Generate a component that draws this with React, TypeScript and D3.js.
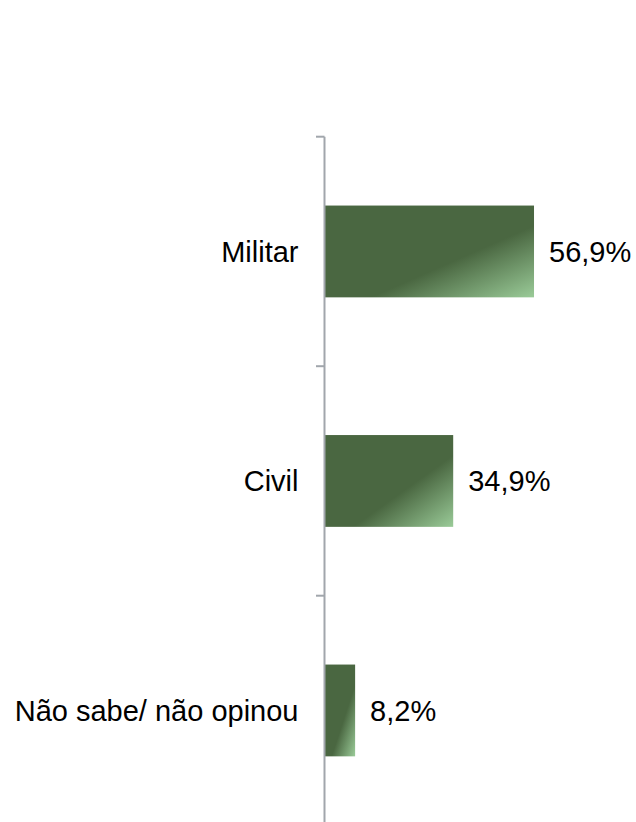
import React, { useEffect, useRef } from 'react';
import * as d3 from 'd3';

const categories = ['Militar', 'Civil', 'Não sabe/ não opinou'];
const values = [56.9, 34.9, 8.2];
const valueLabels = ['56,9%', '34,9%', '8,2%'];

const App = () => {
  const chartRef = useRef(null);

  useEffect(() => {
    const width = 636;
    const height = 822;
    const svg = d3.select(chartRef.current)
      .attr('width', width)
      .attr('height', height)
      .style('background-color', '#FFFFFF');

    svg.selectAll('*').remove();

    const axisX = 324.5;
    const top = 136.7;
    const step = 229.5;

    const y = d3.scaleBand()
      .domain(categories)
      .range([top, top + step * categories.length])
      .paddingInner(0.6)
      .paddingOuter(0.3);

    const x = d3.scaleLinear()
      .domain([0, 60])
      .range([axisX + 0.5, axisX + 0.5 + 220.4]);

    // degradê verde da barra
    const grad = svg.append('defs').append('linearGradient')
      .attr('id', 'barGrad')
      .attr('x1', 0).attr('y1', 0)
      .attr('x2', 1).attr('y2', 1);
    grad.append('stop').attr('offset', '0%').attr('stop-color', '#4a6741');
    grad.append('stop').attr('offset', '61%').attr('stop-color', '#4a6741');
    grad.append('stop').attr('offset', '100%').attr('stop-color', '#9acb98');

    svg.append('g')
      .selectAll('rect')
      .data(values)
      .enter().append('rect')
      .attr('x', x(0))
      .attr('y', (d, i) => y(categories[i]))
      .attr('width', d => x(d) - x(0))
      .attr('height', y.bandwidth())
      .attr('fill', 'url(#barGrad)');

    // eixo vertical
    const axis = svg.append('g').attr('stroke', '#a1a6ac').attr('stroke-width', 2);
    axis.append('line')
      .attr('x1', axisX).attr('x2', axisX)
      .attr('y1', top).attr('y2', height);
    d3.range(categories.length + 1).forEach(i => {
      axis.append('line')
        .attr('x1', axisX - 8.5).attr('x2', axisX)
        .attr('y1', top + i * step).attr('y2', top + i * step);
    });

    // rótulos das categorias
    svg.append('g')
      .selectAll('text')
      .data(categories)
      .enter().append('text')
      .attr('x', 298.5)
      .attr('y', d => y(d) + y.bandwidth() / 2 + 10.3)
      .attr('text-anchor', 'end')
      .style('font-family', '"Liberation Sans", Arial, sans-serif')
      .style('font-size', '29px')
      .style('fill', '#000000')
      .text(d => d);

    // rótulos dos valores
    svg.append('g')
      .selectAll('text')
      .data(values)
      .enter().append('text')
      .attr('x', d => x(d) + 15)
      .attr('y', (d, i) => y(categories[i]) + y.bandwidth() / 2 + 10.3)
      .style('font-family', '"Liberation Sans", Arial, sans-serif')
      .style('font-size', '29px')
      .style('fill', '#000000')
      .text((d, i) => valueLabels[i]);
  }, []);

  return (
    <svg ref={chartRef} style={{ position: 'absolute', left: 0, top: 0, display: 'block' }}></svg>
  );
};

export default App;
